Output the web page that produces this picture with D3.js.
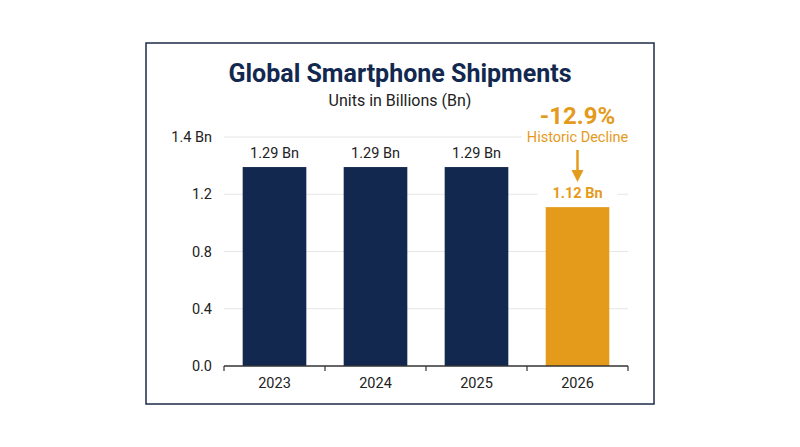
<!DOCTYPE html><html><head><meta charset="utf-8"><script src="https://cdn.jsdelivr.net/npm/d3@7"></script>
<style>body{margin:0;background:#fff}text{font-family:Roboto,"Open Sans",sans-serif}</style></head><body><svg width="800" height="447"></svg>
<script>
const categories=["2023","2024","2025","2026"];
const barHeights=[1.39,1.39,1.39,1.11];
const valueLabels=["1.29 Bn","1.29 Bn","1.29 Bn","1.12 Bn"];
const tickValues=[0,0.4,0.8,1.2,1.6];
const tickLabels=["0.0","0.4","0.8","1.2","1.4 Bn"];
const navy="#12284f",orange="#e49a1b";
const svg=d3.select("svg");
svg.append("rect").attr("x",146).attr("y",43).attr("width",508).attr("height",361).attr("fill","#fff").attr("stroke","#1d2b4a").attr("stroke-width",1.5);
svg.append("text").attr("x",400).attr("y",82).attr("text-anchor","middle").attr("font-size",25).attr("font-weight",700).attr("fill",navy).text("Global Smartphone Shipments");
svg.append("text").attr("x",400).attr("y",106).attr("text-anchor","middle").attr("font-size",16).attr("fill","#222").text("Units in Billions (Bn)");
const x=d3.scaleBand().domain(categories).range([224,628]).paddingInner(0.37).paddingOuter(0.185);
const y=d3.scaleLinear().domain([0,1.6]).range([366,137]);
svg.append("g").selectAll("line").data(tickValues.slice(1)).join("line").attr("x1",224).attr("x2",628).attr("y1",d=>y(d)).attr("y2",d=>y(d)).attr("stroke","#e6e6e6").attr("stroke-width",1.2);
svg.append("g").selectAll("text").data(tickValues).join("text").attr("x",212).attr("y",d=>y(d)+5).attr("text-anchor","end").attr("font-size",14.5).attr("fill","#222").text((d,i)=>tickLabels[i]);
svg.append("g").selectAll("rect").data(categories).join("rect").attr("x",d=>x(d)-8).attr("width",x.bandwidth()+16).attr("y",(d,i)=>y(barHeights[i])-26).attr("height",22).attr("fill","#fff");
svg.append("rect").attr("x",x("2026")-24).attr("width",x.bandwidth()+48).attr("y",y(1.6)-8).attr("height",60).attr("fill","#fff");
svg.append("g").selectAll("rect.b").data(categories).join("rect").attr("x",d=>x(d)).attr("width",x.bandwidth()).attr("y",(d,i)=>y(barHeights[i])).attr("height",(d,i)=>366-y(barHeights[i])).attr("fill",(d,i)=>i===3?orange:navy);
svg.append("g").selectAll("text").data(categories).join("text").attr("x",d=>x(d)+x.bandwidth()/2).attr("y",(d,i)=>y(barHeights[i])-9).attr("text-anchor","middle").attr("font-size",14.5).attr("font-weight",(d,i)=>i===3?700:400).attr("fill",(d,i)=>i===3?orange:"#222").text((d,i)=>valueLabels[i]);
const ax=svg.append("g").attr("transform","translate(0,366)").call(d3.axisBottom(x).tickSize(0).tickPadding(12));
ax.select(".domain").remove();
ax.selectAll("text").attr("font-size",14.5).attr("fill","#222").style("font-family","Roboto");
svg.append("line").attr("x1",224).attr("x2",628).attr("y1",366).attr("y2",366).attr("stroke","#333").attr("stroke-width",1.5);
const bounds=[0,1,2,3,4].map(i=>224+x.step()*i);
svg.append("g").selectAll("line").data(bounds).join("line").attr("x1",d=>d).attr("x2",d=>d).attr("y1",366).attr("y2",371).attr("stroke","#333").attr("stroke-width",1.2);
const cx=x("2026")+x.bandwidth()/2;
svg.append("text").attr("x",cx).attr("y",124).attr("text-anchor","middle").attr("font-size",24).attr("font-weight",700).attr("fill",orange).text("-12.9%");
svg.append("text").attr("x",cx).attr("y",142).attr("text-anchor","middle").attr("font-size",14.5).attr("fill",orange).text("Historic Decline");
svg.append("line").attr("x1",cx).attr("x2",cx).attr("y1",150).attr("y2",172).attr("stroke",orange).attr("stroke-width",2.5);
svg.append("path").attr("d",`M${cx-6},170 L${cx+6},170 L${cx},182 Z`).attr("fill",orange);
</script></body></html>
